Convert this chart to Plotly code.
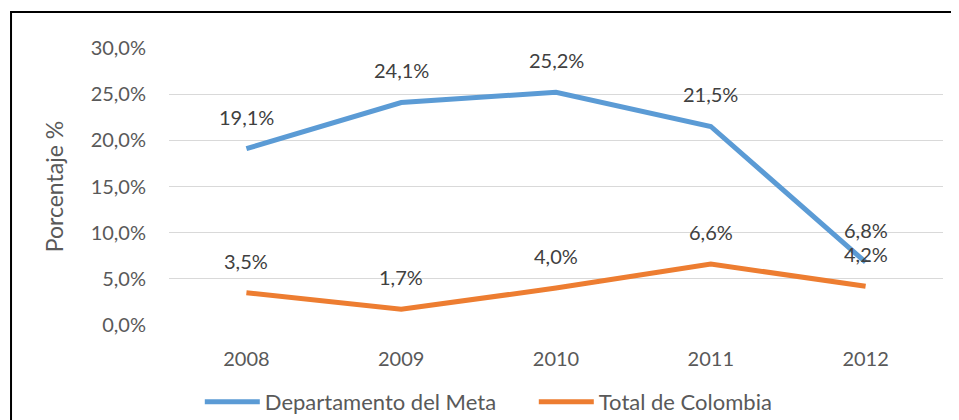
import plotly.graph_objects as go

years = ["2008", "2009", "2010", "2011", "2012"]
meta = [19.1, 24.1, 25.2, 21.5, 6.8]
colombia = [3.5, 1.7, 4.0, 6.6, 4.2]
series_names = ["Departamento del Meta", "Total de Colombia"]
y_ticks = [0, 5, 10, 15, 20, 25, 30]
y_ticktext = ["0,0%", "5,0%", "10,0%", "15,0%", "20,0%", "25,0%", "30,0%"]

FONT = "Lato"
GRAY = "#595959"
DARK = "#404040"

fig = go.Figure()
fig.add_trace(go.Scatter(x=years, y=meta, mode="lines", name=series_names[0],
                         line=dict(color="#5B9BD5", width=5)))
fig.add_trace(go.Scatter(x=years, y=colombia, mode="lines", name=series_names[1],
                         line=dict(color="#ED7D31", width=5)))

def fmt(v):
    return f"{v:.1f}".replace(".", ",") + "%"

for vals in (meta, colombia):
    for i, v in enumerate(vals):
        fig.add_annotation(x=i, y=v, xref="x", yref="y", text=fmt(v), showarrow=False,
                           yshift=32, font=dict(family=FONT, size=20, color=DARK))

fig.add_shape(type="rect", xref="paper", yref="paper",
              x0=-0.2041, x1=1.2, y0=-0.6, y1=1.13,
              line=dict(color="black", width=2), fillcolor="rgba(0,0,0,0)")

fig.update_layout(
    width=959, height=420,
    margin=dict(l=161, r=24, t=40, b=103, autoexpand=False),
    paper_bgcolor="white", plot_bgcolor="white",
    font=dict(family=FONT, size=20, color=GRAY),
    showlegend=True,
    legend=dict(orientation="h", xref="container", yref="container",
                x=0.200, xanchor="left", y=0.062, yanchor="middle",
                font=dict(family=FONT, size=22, color=GRAY), itemwidth=55,
                entrywidth=264, entrywidthmode="pixels",
                bgcolor="rgba(0,0,0,0)"),
    xaxis=dict(type="category", range=[-0.5, 4.5], showgrid=False, showline=False,
               automargin=False, ticks="",
               tickfont=dict(family=FONT, size=20, color=GRAY), ticklabelstandoff=20),
    yaxis=dict(range=[0, 30], tickvals=y_ticks, ticktext=y_ticktext, automargin=False,
               showgrid=True, gridcolor="#D9D9D9", gridwidth=1, zeroline=False,
               showline=False, ticks="",
               tickfont=dict(family=FONT, size=20, color=GRAY), ticklabelstandoff=22,
               title=dict(text="Porcentaje %", font=dict(family=FONT, size=23, color=GRAY),
                          standoff=20)),
)

fig.write_html("out.html")
